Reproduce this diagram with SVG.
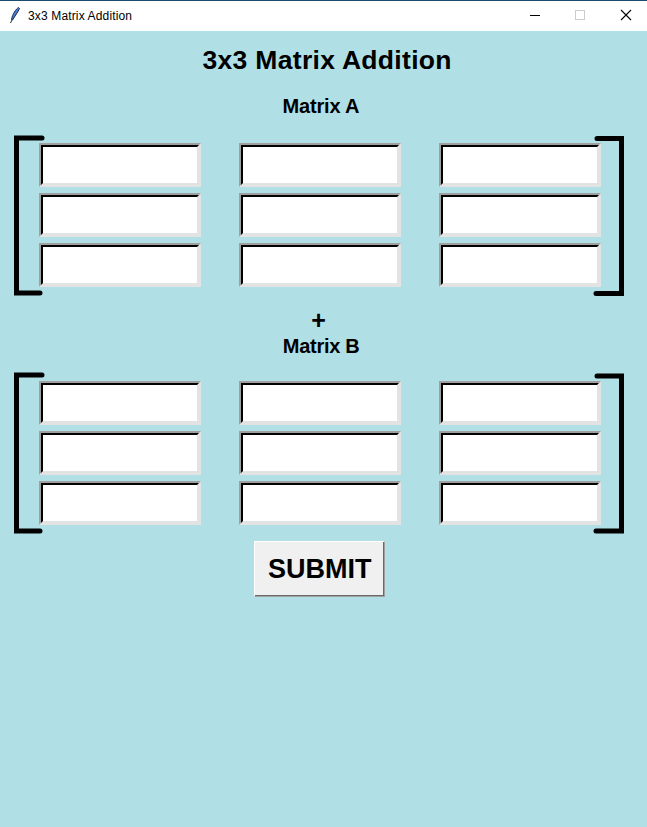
<svg xmlns="http://www.w3.org/2000/svg" xmlns:xlink="http://www.w3.org/1999/xlink" width="647" height="827" viewBox="0 0 647 827">
<style>
.lbl{font-family:"Liberation Sans",Arial,sans-serif;font-weight:bold;fill:#000;text-anchor:middle}
.brk{fill:none;stroke:#000;stroke-width:5;stroke-linecap:round;stroke-linejoin:miter}
.wt{font-family:"Liberation Sans",Arial,sans-serif;font-size:12px;fill:#000}
</style>
<defs>
<g id="entry">
<rect x="0" y="0" width="162" height="44" fill="#e3e3e3"/>
<polygon points="0,0 162,0 160,2 2,2 2,42 0,44" fill="#a0a0a0"/>
<polygon points="2,2 160,2 158,4 4,4 4,40 2,42" fill="#000"/>
<rect x="4" y="4" width="154" height="36" fill="#fff"/>
</g>
</defs>
<rect x="0" y="0" width="647" height="827" fill="#b0e0e6"/>
<g id="titlebar">
<rect x="0" y="0" width="647" height="31" fill="#fff"/>
<rect x="0" y="0" width="647" height="1" fill="#1c4a6e"/>
<path d="M18.5,7.5 C16,9 12.5,14 11.5,19.5 L12.5,20 C15,16 18,12 19.5,8.5 Z" fill="#4a7fd0" stroke="#1a2a50" stroke-width="1"/>
<line x1="12" y1="20" x2="10.5" y2="23" stroke="#1a2a50" stroke-width="1"/>
<text class="wt" x="28" y="20" textLength="104" lengthAdjust="spacing">3x3 Matrix Addition</text>
<line x1="530" y1="15.5" x2="540" y2="15.5" stroke="#000" stroke-width="1"/>
<rect x="575.5" y="10.5" width="9" height="9" fill="none" stroke="#cccccc" stroke-width="1"/>
<path d="M621,10 L631,20 M631,10 L621,20" stroke="#000" stroke-width="1.1" fill="none"/>
</g>
<g id="title"><text class="lbl" x="327" y="68.5" font-size="26.5" textLength="249" lengthAdjust="spacing">3x3 Matrix Addition</text></g>
<g id="labelA"><text class="lbl" x="321" y="113" font-size="20" textLength="77" lengthAdjust="spacing">Matrix A</text></g>
<g id="plus"><text class="lbl" x="318.5" y="329" font-size="25">+</text></g>
<g id="labelB"><text class="lbl" x="321.3" y="352.7" font-size="20" textLength="77" lengthAdjust="spacing">Matrix B</text></g>
<g id="bracketsA">
<polyline class="brk" points="42,138 16.5,138 16.5,293 40,293"/>
<polyline class="brk" points="597,138.5 621.5,138.5 621.5,293.5 596,293.5"/>
</g>
<g id="bracketsB">
<polyline class="brk" points="42,375 16.5,375 16.5,531 40,531"/>
<polyline class="brk" points="597,376 621.5,376 621.5,531 596,531"/>
</g>
<g id="matrixA">
<use xlink:href="#entry" x="39" y="143"/><use xlink:href="#entry" x="239" y="143"/><use xlink:href="#entry" x="439" y="143"/>
<use xlink:href="#entry" x="39" y="193"/><use xlink:href="#entry" x="239" y="193"/><use xlink:href="#entry" x="439" y="193"/>
<use xlink:href="#entry" x="39" y="243"/><use xlink:href="#entry" x="239" y="243"/><use xlink:href="#entry" x="439" y="243"/>
</g>
<g id="matrixB">
<use xlink:href="#entry" x="39" y="381"/><use xlink:href="#entry" x="239" y="381"/><use xlink:href="#entry" x="439" y="381"/>
<use xlink:href="#entry" x="39" y="431"/><use xlink:href="#entry" x="239" y="431"/><use xlink:href="#entry" x="439" y="431"/>
<use xlink:href="#entry" x="39" y="481"/><use xlink:href="#entry" x="239" y="481"/><use xlink:href="#entry" x="439" y="481"/>
</g>
<g id="submit">
<rect x="254" y="541" width="131" height="56" fill="#a0a0a0"/>
<polygon points="254,541 385,541 384,542 255,542 255,596 254,597" fill="#fff"/>
<rect x="255" y="542" width="128" height="53" fill="#f0f0f0"/>
<rect x="383" y="542" width="1" height="54" fill="#696969"/>
<rect x="255" y="595" width="129" height="1" fill="#696969"/>
<text class="lbl" x="319.7" y="578" font-size="27">SUBMIT</text>
</g>
<g id="connectors"/>
</svg>
